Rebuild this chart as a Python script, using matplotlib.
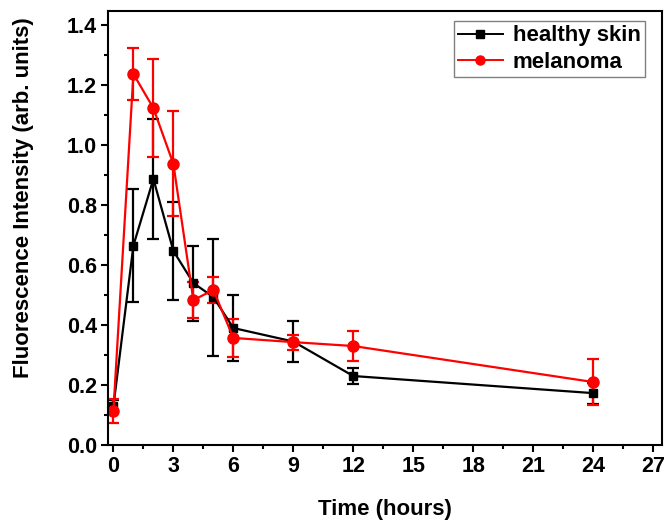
import numpy as np
import matplotlib.pyplot as plt
from matplotlib.ticker import MultipleLocator
from matplotlib.lines import Line2D

plt.rcParams['font.family'] = ['Liberation Sans', 'DejaVu Sans']
plt.rcParams['font.weight'] = 'bold'

# time points (hours)
time = [0, 1, 2, 3, 4, 5, 6, 9, 12, 24]

# healthy skin
healthy = [0.13, 0.665, 0.887, 0.647, 0.54, 0.493, 0.39, 0.345, 0.23, 0.173]
healthy_err = [0.02, 0.187, 0.2, 0.163, 0.125, 0.195, 0.11, 0.067, 0.028, 0.035]

# melanoma
melanoma = [0.115, 1.237, 1.123, 0.937, 0.483, 0.517, 0.357, 0.343, 0.33, 0.21]
melanoma_err = [0.04, 0.088, 0.163, 0.175, 0.06, 0.042, 0.063, 0.025, 0.05, 0.077]

fig = plt.figure(figsize=(6.64, 5.22), dpi=100)
ax = fig.add_axes([0.1627, 0.1475, 0.997 - 0.1627, 0.979 - 0.1475])

ax.errorbar(time, healthy, yerr=healthy_err, color='black', marker='s', ms=6.3,
            lw=1.6, elinewidth=1.6, capsize=4.5, capthick=1.6)
ax.errorbar(time, melanoma, yerr=melanoma_err, color='red', marker='o', ms=8,
            lw=1.6, elinewidth=1.6, capsize=4.5, capthick=1.6)

ax.set_xlim(-0.27, 27.45)
ax.set_ylim(0, 1.447)
ax.xaxis.set_major_locator(MultipleLocator(3))
ax.xaxis.set_minor_locator(MultipleLocator(1.5))
ax.yaxis.set_major_locator(MultipleLocator(0.2))
ax.yaxis.set_minor_locator(MultipleLocator(0.1))
ax.yaxis.set_major_formatter(plt.FormatStrFormatter('%.1f'))

ax.tick_params(which='major', direction='out', length=5, width=1.5, labelsize=15.5, pad=3)
ax.tick_params(which='minor', direction='out', length=3, width=1.5)
for s in ax.spines.values():
    s.set_linewidth(1.5)

ax.set_xlabel('Time (hours)', fontsize=16, fontweight='bold', labelpad=16)
ax.set_ylabel('Fluorescence Intensity (arb. units)', fontsize=16, fontweight='bold')
ax.yaxis.set_label_coords(-0.133, 0.569)

handles = [Line2D([], [], color='black', marker='s', ms=5.5, lw=1.4),
           Line2D([], [], color='red', marker='o', ms=6.5, lw=1.4)]
leg = ax.legend(handles, ['healthy skin', 'melanoma'], loc='upper right',
                bbox_to_anchor=(0.969, 0.977), fontsize=16, fancybox=False, framealpha=1,
                edgecolor='gray', borderpad=0.2, handlelength=2.0, handletextpad=0.45,
                labelspacing=0.25, borderaxespad=0)
leg.get_frame().set_linewidth(1.0)

fig.savefig('out.png', dpi=100)
